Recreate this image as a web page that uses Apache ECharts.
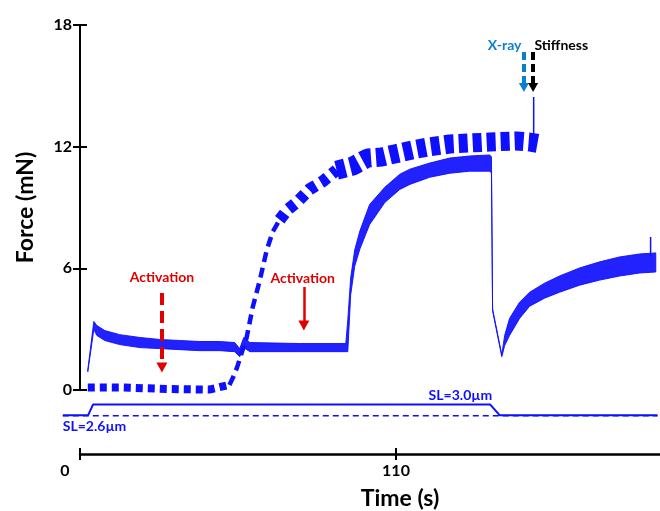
<!DOCTYPE html>
<html>
<head>
<meta charset="utf-8">
<script src="https://cdn.jsdelivr.net/npm/echarts@6/dist/echarts.min.js"></script>
<style>
html, body { margin: 0; padding: 0; background: #fff; }
#chart { width: 660px; height: 511px; }
</style>
</head>
<body>
<div id="chart"></div>
<script>
// solid force trace (time s, upper / lower edge of the noisy band, mN)
const solidT  = [2.7, 4.8, 5.85, 8.6, 13.8, 20.8, 27.8, 34.7, 41.7, 48.6, 53.8, 55.6, 57.0, 59.1, 76.5, 92.5,
                 93.2, 94.2, 95.6, 97.4, 100.8, 106.1, 111.3, 114.8, 121.7, 128.7, 135.6, 142.6, 143.2, 143.6,
                 146.8, 147.8, 149.5, 153.0, 156.5, 161.7, 166.9, 173.9, 180.9, 187.8, 194.8, 200.4]
const solidHi = [0.99, 3.38, 3.18, 2.93, 2.73, 2.59, 2.49, 2.44, 2.39, 2.39, 2.34, 2.04, 2.59, 2.34, 2.29, 2.29,
                 3.45, 5.52, 6.90, 7.84, 9.15, 10.00, 10.64, 10.89, 11.19, 11.44, 11.54, 11.59, 11.50, 4.00,
                 1.74, 2.69, 3.53, 4.33, 4.82, 5.27, 5.62, 6.02, 6.32, 6.56, 6.71, 6.76]
const solidLo = [0.90, 2.98, 2.69, 2.44, 2.24, 2.09, 2.04, 1.99, 1.94, 1.94, 1.89, 1.64, 2.09, 1.89, 1.89, 1.89,
                 1.89, 4.68, 6.10, 6.95, 8.16, 9.25, 9.89, 10.14, 10.49, 10.69, 10.79, 10.79, 10.70, 3.90,
                 1.64, 2.19, 2.69, 3.53, 4.13, 4.53, 4.82, 5.17, 5.42, 5.62, 5.77, 5.82]

// dashed force trace (centre of the bursts)
const dashT = [2.7, 15, 30, 45, 52.0, 53.2, 54.6, 58.0, 60.1, 62.6, 65.0, 67.1, 69.5, 72.3, 75.8, 79.9, 84.5, 89.3,
               94.9, 100.1, 105.0, 109.5, 117.2, 121.0, 128.7, 135.6, 142.6, 151.9, 156.4, 160.3]
const dashV = [0.12, 0.12, 0.05, 0.02, 0.25, 0.60, 1.09, 2.59, 4.08, 5.42, 6.91, 7.81, 8.40, 8.90, 9.30, 9.90, 10.29, 10.84,
               11.04, 11.44, 11.49, 11.64, 11.88, 11.98, 12.13, 12.18, 12.23, 12.28, 12.23, 12.13]

// isolated spikes
const spikeDashT = [157.9, 157.9]
const spikeDashV = [12.2, 14.45]
const spikeSolidT = [198.6, 198.6]
const spikeSolidV = [6.6, 7.55]

// sarcomere length traces (drawn below zero)
const slT = [-6, 2.8, 4.5, 142.8, 146.1, 201]
const slV = [-1.25, -1.25, -0.72, -0.72, -1.25, -1.25]
const slDashT = [-6, 201]
const slDashV = [-1.27, -1.27]

const yTicks = [0, 6, 12, 18]
const xTicks = [0, 110]

const BLUE = '#0f0fff'
const RED = '#e00000'
const XBLUE = '#0a7fd0'
const FONT = 'Lato, "Open Sans", sans-serif'

const pts = (ts, vs) => ts.map((t, i) => [t, vs[i]])

const base = {
    type: 'line',
    xAxisIndex: 0,
    yAxisIndex: 0,
    symbol: 'none',
    silent: true,
    animation: false,
}

const chart = echarts.init(document.getElementById('chart'))

// time axis: ticks every 110 s, the axis runs past the right edge so only 0 and 110 show
const timeAxis = {
    gridIndex: 2, type: 'value', min: 0, max: 220, interval: 110, position: 'bottom',
    splitLine: { show: false },
}

const option = {
    animation: false,
    grid: [
        { left: 62.8, right: 2.5, top: 25, height: 395.4, outerBoundsMode: 'none' },   // data
        { left: 80, right: 2.5, top: 25, height: 365, outerBoundsMode: 'none' },       // force axis
        { left: 80, right: -52, top: 453, height: 1, outerBoundsMode: 'none' },        // time axis
    ],
    xAxis: [
        { gridIndex: 0, type: 'value', min: -6, max: 201, show: false },
        { gridIndex: 1, type: 'value', min: 0, max: 201, show: false },
        {
            ...timeAxis,
            axisLine: { show: true, lineStyle: { color: '#000', width: 2.5 } },
            axisTick: { show: true, length: 6, lineStyle: { color: '#000', width: 2 } },
            axisLabel: {
                margin: 9, color: '#000',
                fontFamily: FONT, fontWeight: 'bold', fontSize: 16,
                formatter: v => !xTicks.includes(v) ? '' : (v === 0 ? '{l|0}' : String(v)),
                rich: { l: { padding: [0, 30, 0, 0], fontFamily: FONT, fontWeight: 'bold', fontSize: 16, color: '#000' } },
            },
            name: 'Time (s)', nameLocation: 'middle', nameGap: 33,
            nameTextStyle: {
                fontFamily: FONT, fontWeight: 'bold', fontSize: 23, color: '#000', padding: [0, 0, 0, 8],
            },
        },
        {
            ...timeAxis,
            axisLine: { show: false },
            axisTick: { show: true, inside: true, length: 6, lineStyle: { color: '#000', width: 2 } },
            axisLabel: { show: false },
        },
    ],
    yAxis: [
        { gridIndex: 0, type: 'value', min: -1.5, max: 18, show: false },
        { gridIndex: 2, type: 'value', min: 0, max: 1, show: false },
        {
            gridIndex: 1, type: 'value', min: 0, max: 18, interval: 6, position: 'left',
            axisLine: { show: true, lineStyle: { color: '#000', width: 2 } },
            axisTick: { show: true, length: 7, lineStyle: { color: '#000', width: 2 } },
            axisLabel: {
                margin: 8, color: '#000', fontFamily: FONT, fontWeight: 'bold', fontSize: 16,
                formatter: v => yTicks.includes(v) ? String(v) : '',
            },
            splitLine: { show: false },
            name: 'Force (mN)', nameLocation: 'middle', nameGap: 43,
            nameTextStyle: { fontFamily: FONT, fontWeight: 'bold', fontSize: 23, color: '#000' },
        },
        {
            gridIndex: 1, type: 'value', min: 0, max: 18, interval: 6, position: 'left',
            axisLine: { show: false },
            axisTick: { show: true, inside: true, length: 7, lineStyle: { color: '#000', width: 2 } },
            axisLabel: { show: false },
            splitLine: { show: false },
        },
    ],
    series: [
        // SL traces
        {
            ...base, name: 'SL dashed', data: pts(slDashT, slDashV),
            lineStyle: { color: BLUE, width: 1.5, type: [6, 4] },
            markLine: {
                silent: true, animation: false, label: { show: false },
                data: [
                    [
                        { coord: [28.5, 4.78], symbol: 'none', lineStyle: { color: RED, width: 4, type: [12, 6] } },
                        { coord: [28.5, 1.11], symbol: 'triangle', symbolSize: [11, 10], itemStyle: { color: RED } },
                    ],
                    [
                        { coord: [77.9, 5.08], symbol: 'none', lineStyle: { color: RED, width: 2.5, type: 'solid' } },
                        { coord: [77.9, 3.18], symbol: 'triangle', symbolSize: [11, 10], itemStyle: { color: RED } },
                    ],
                    [
                        { coord: [154.5, 16.67], symbol: 'none', lineStyle: { color: XBLUE, width: 4, type: [8, 4] } },
                        { coord: [154.5, 14.92], symbol: 'triangle', symbolSize: [10, 9], itemStyle: { color: XBLUE } },
                    ],
                    [
                        { coord: [157.7, 16.67], symbol: 'none', lineStyle: { color: '#000', width: 4, type: [8, 4] } },
                        { coord: [157.7, 14.92], symbol: 'triangle', symbolSize: [10, 9], itemStyle: { color: '#000' } },
                    ],
                ],
            },
        },
        { ...base, name: 'SL', data: pts(slT, slV), lineStyle: { color: BLUE, width: 2 } },

        // dashed force trace, drawn in pieces with growing burst height
        { ...base, name: 'dash low', data: pts(dashT.slice(0, 5), dashV.slice(0, 5)),
          lineStyle: { color: BLUE, width: 8, type: [7, 5], cap: 'butt' } },
        { ...base, name: 'dash ramp', data: pts(dashT.slice(4, 13), dashV.slice(4, 13)),
          lineStyle: { color: BLUE, width: 4.5, type: [10, 6], cap: 'butt' } },
        { ...base, name: 'dash mid', data: pts(dashT.slice(12, 18), dashV.slice(12, 18)),
          lineStyle: { color: BLUE, width: 12, type: [8, 6], cap: 'butt' } },
        { ...base, name: 'dash top', data: pts(dashT.slice(17), dashV.slice(17)),
          lineStyle: { color: BLUE, width: 19, type: [9, 5], cap: 'butt' } },
        { ...base, name: 'spike1', data: pts(spikeDashT, spikeDashV), lineStyle: { color: BLUE, width: 1.5 } },

        // solid force trace: band between the upper and lower edge
        {
            type: 'custom', name: 'solid band', xAxisIndex: 0, yAxisIndex: 0, silent: true, animation: false,
            data: solidT.map((t, i) => [t, solidHi[i], solidLo[i]]),
            encode: { x: 0, y: [1, 2] },
            renderItem: (params, api) => {
                if (params.dataIndex !== 0) return null
                const upper = solidT.map((t, i) => api.coord([t, solidHi[i]]))
                const lower = solidT.map((t, i) => api.coord([t, solidLo[i]])).reverse()
                return {
                    type: 'polygon',
                    shape: { points: upper.concat(lower) },
                    style: { fill: BLUE, stroke: BLUE, lineWidth: 1, opacity: 0.92 },
                }
            },
        },
        { ...base, name: 'spike2', data: pts(spikeSolidT, spikeSolidV), lineStyle: { color: BLUE, width: 1.5 } },
    ],
}

chart.setOption(option)

// text annotations, placed in data coordinates
const notes = [
    { text: 'Activation', at: [28.5, 5.57], color: RED },
    { text: 'Activation', at: [77.5, 5.52], color: RED },
    { text: 'X-ray', at: [147.8, 17.0], color: XBLUE },
    { text: 'Stiffness', at: [167.5, 17.0], color: '#000' },
    { text: 'SL=2.6µm', at: [5.05, -1.78], color: BLUE },
    { text: 'SL=3.0µm', at: [132.4, -0.25], color: BLUE },
]
chart.setOption({
    graphic: notes.map(n => {
        const p = chart.convertToPixel({ gridIndex: 0 }, n.at)
        return {
            type: 'text', x: p[0], y: p[1], silent: true, z: 100,
            style: { text: n.text, fill: n.color, font: 'bold 14px ' + FONT, align: 'center', verticalAlign: 'middle' },
        }
    }),
})

window.addEventListener('resize', () => chart.resize())
</script>
</body>
</html>
